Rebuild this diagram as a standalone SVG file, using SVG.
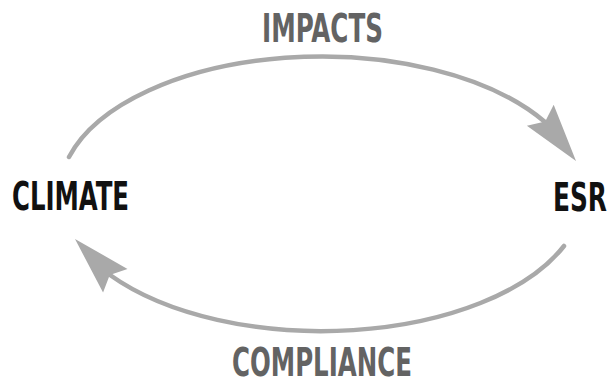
<svg xmlns="http://www.w3.org/2000/svg" xmlns:xlink="http://www.w3.org/1999/xlink" width="616" height="387" viewBox="0 0 616 387">
  <style>
    .node { font-family: "Liberation Sans Narrow", "DejaVu Sans Condensed", "Liberation Sans", sans-serif; font-weight: bold; font-size: 39px; fill: #111111; }
    .label { font-family: "Liberation Sans Narrow", "DejaVu Sans Condensed", "Liberation Sans", sans-serif; font-weight: bold; font-size: 39px; fill: #636363; }
    .arc { fill: none; stroke: #a9a9a9; stroke-width: 4.5; stroke-linecap: round; }
    .head { fill: #a9a9a9; }
  </style>
  <defs>
    <!-- notched arrowhead, tip at origin pointing along +x -->
    <path id="arrowhead" d="M0,0 L-58,-17 L-50,0 L-58,17 Z"/>
  </defs>
  <rect width="616" height="387" fill="#ffffff"/>

  <g id="connectors">
    <g id="impacts">
      <path class="arc" d="M69,157 A262,137 0 0,1 545,122"/>
      <use class="head" xlink:href="#arrowhead" transform="translate(576,161) rotate(52)"/>
      <text class="label" x="262" y="42" textLength="121" lengthAdjust="spacingAndGlyphs">IMPACTS</text>
    </g>
    <g id="compliance">
      <path class="arc" d="M564,246 A262,137 0 0,1 110,275"/>
      <use class="head" xlink:href="#arrowhead" transform="translate(75,239) rotate(226)"/>
      <text class="label" x="232" y="376" font-size="38" textLength="180" lengthAdjust="spacingAndGlyphs">COMPLIANCE</text>
    </g>
  </g>

  <g id="climate">
    <text class="node" x="12" y="210" textLength="117" lengthAdjust="spacingAndGlyphs">CLIMATE</text>
  </g>
  <g id="esr">
    <text class="node" x="607" y="211" text-anchor="end" textLength="54" lengthAdjust="spacingAndGlyphs">ESR</text>
  </g>
</svg>
